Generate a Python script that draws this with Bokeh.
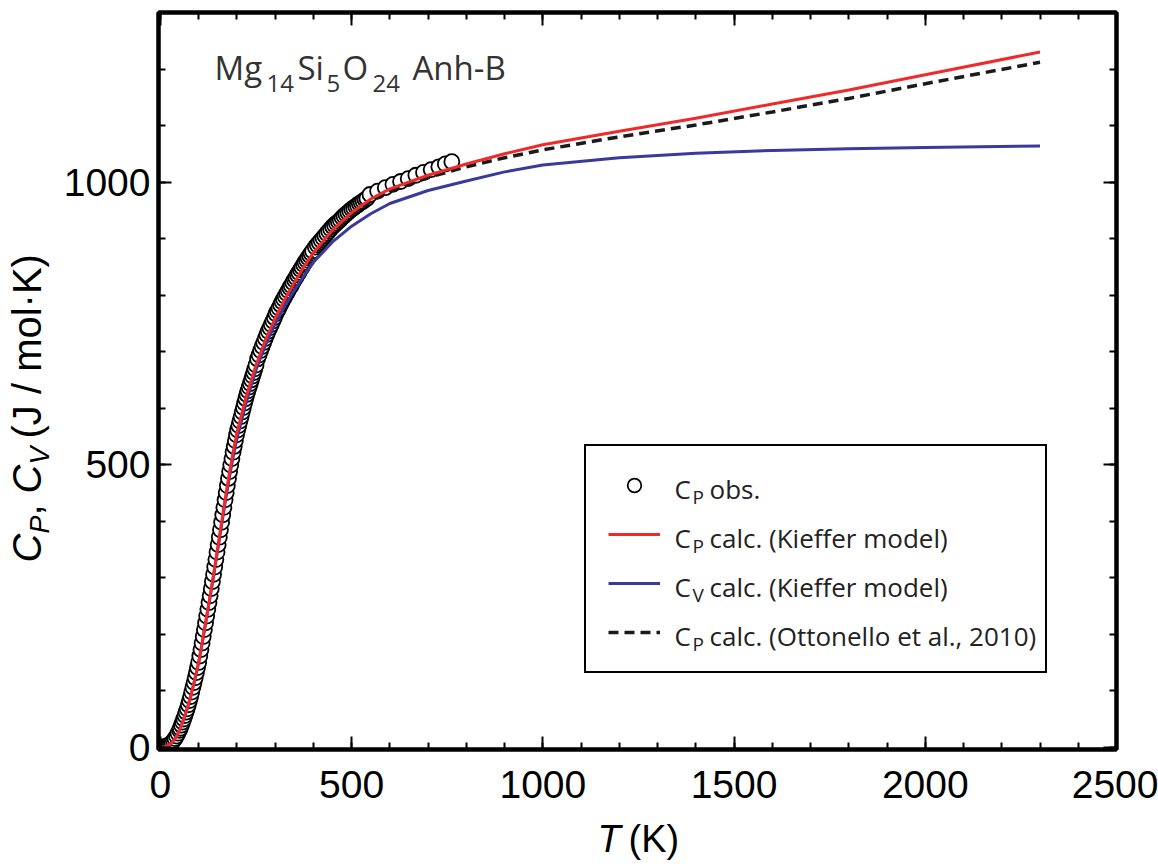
import math
from bokeh.plotting import figure
from bokeh.layouts import row, column
from bokeh.models import (Range1d, LinearAxis, SingleIntervalTicker, Label,
                          Legend, LegendItem, CustomJSTickFormatter)
from bokeh.embed import file_html
from bokeh.resources import INLINE

# ---- measured heat capacity (J / mol K) ----
obs_T = [2, 6, 10, 14, 18, 22, 26, 30, 34, 38, 42, 46, 50,
         52, 55, 58, 61, 64, 67, 70, 73, 76, 79, 82, 85, 88, 91, 94, 97,
         100, 103, 106, 109, 112, 115, 118, 121, 124, 127, 130, 133, 136, 139,
         142, 145, 148, 151, 154, 157, 160, 163, 166, 169, 172, 175, 178, 181,
         184, 187, 190, 193, 196, 199, 202, 205, 208, 211, 214, 217, 220, 223,
         226, 229, 232, 235, 238, 241, 244, 247, 250,
         254, 258, 262, 266, 270, 274, 278, 282, 286, 290, 294, 298, 302, 306,
         310, 314, 318, 322, 326, 330, 334, 338, 342, 346, 350, 354, 358, 362,
         366, 370, 374, 378, 382, 386, 390, 394, 398,
         405, 410, 415, 420, 425, 430, 435, 440, 445, 450, 455, 460, 465, 470,
         475, 480, 485, 490, 495, 500, 505, 510, 515, 520, 525, 530, 535, 540,
         548, 568, 588, 608, 628, 648, 668, 688, 708, 728, 745, 762]
obs_cp = [0.1, 0.3, 0.5, 1.5, 2.5, 4.0, 6.0, 8.0, 11.6, 15.2, 19.6, 24.8, 30.0,
          33.6, 39.0, 44.4, 50.0, 56.0, 62.0, 68.0, 75.2, 82.4, 89.6, 97.6, 106.0,
          114.4, 123.0, 132.0, 141.0, 150.0, 161.4, 172.8, 184.2, 196.0, 208.0,
          220.0, 232.0, 244.0, 256.0, 268.0, 280.6, 293.2, 305.8, 318.8, 332.0,
          345.2, 358.4, 371.6, 384.8, 398.0, 411.2, 424.4, 437.6, 450.4, 463.0,
          475.6, 487.8, 499.2, 510.6, 522.0, 532.2, 542.4, 552.6, 561.3, 569.2,
          577.1, 585.0, 593.0, 600.9, 608.8, 616.7, 624.2, 630.6, 637.1, 643.6,
          650.1, 656.6, 663.0, 669.5, 676.0,
          687, 694, 702, 709, 716, 723, 730, 736, 742, 748, 754, 760, 767, 772,
          777, 783, 788, 793, 798, 803, 808, 813, 817, 822, 827, 831, 836, 840,
          845, 849, 854, 858, 862, 866, 870, 874, 878,
          885, 889, 893, 897, 901, 905, 909, 913, 917, 921, 924, 927, 930, 933,
          937, 940, 943, 946, 949, 952, 954, 957, 959, 962, 964, 966, 969, 971,
          978, 984, 990, 996, 1001, 1006, 1012, 1017, 1022, 1027, 1032, 1036]

# ---- Kieffer model: Cp and Cv ----
model_T = [0, 10, 20, 30, 40, 50, 60, 70, 80, 90, 100, 110, 120, 130, 140, 150,
           160, 170, 180, 190, 200, 225, 250, 275, 300, 325, 350, 375, 400, 450,
           500, 550, 600, 700, 800, 900, 1000, 1200, 1400, 1600, 1800, 2000, 2300]
cp_kieffer = [0, 0.5, 3, 8, 17, 30, 48, 68, 92, 120, 150, 188, 228, 268, 310, 354,
              398, 442, 484, 522, 556, 622, 676, 721, 759, 792, 822, 850, 875, 915,
              946, 970, 988, 1012, 1032, 1050, 1066, 1090, 1113, 1138, 1163, 1190, 1230]
cv_kieffer = [0, 0.5, 3, 8, 17, 30, 48, 68, 92, 120, 150, 187, 227, 266, 307, 350,
              393, 436, 476, 513, 546, 612, 668, 712, 749, 781, 808, 834, 858, 894,
              922, 944, 962, 985, 1002, 1018, 1030, 1043, 1051, 1056, 1059, 1061, 1064]

# ---- Ottonello et al. (2010) ----
ott_T = [300, 350, 400, 450, 500, 550, 600, 700, 800, 900, 1000, 1200, 1400,
         1600, 1800, 2000, 2300]
cp_ott = [757, 820, 871, 911, 942, 966, 984, 1008, 1027, 1043, 1057, 1080, 1101,
          1124, 1148, 1174, 1212]

x_major = 500
y_major = 500

RED = "#ee2a2a"
BLUE = "#3b3a9c"
LF = "Liberation Sans"
SHIFT = 0.38   # Label baseline offset, in em, compensated below

# page geometry: plot box spans x 158..1116, y 12..749 on an 1158 x 866 page
PAGE_W, PAGE_H = 1158, 866
STRIP_W = 56     # strip left of the plot holding the vertical axis title
STRIP_H = 48     # strip under the plot holding the horizontal axis title
TOP_H = PAGE_H - STRIP_H
FL, FB = 158, 749

p = figure(width=PAGE_W - STRIP_W, height=TOP_H,
           x_range=Range1d(-5, 2500), y_range=Range1d(-4, 1300),
           output_backend="svg", toolbar_location=None,
           min_border_left=FL - STRIP_W, min_border_right=42, min_border_top=12,
           min_border_bottom=TOP_H - FB)
p.background_fill_color = "white"
p.border_fill_color = "white"
p.outline_line_color = "black"
p.outline_line_width = 4
p.xgrid.visible = False
p.ygrid.visible = False

xt = SingleIntervalTicker(interval=x_major, num_minor_ticks=5)
yt = SingleIntervalTicker(interval=y_major, num_minor_ticks=5)


def style_axis(ax, ticker):
    ax.ticker = ticker
    ax.axis_line_width = 4
    ax.axis_line_color = "black"
    ax.major_tick_in = 13
    ax.major_tick_out = 0
    ax.minor_tick_in = 7
    ax.minor_tick_out = 0
    ax.major_tick_line_width = 2
    ax.minor_tick_line_width = 2
    ax.major_label_text_font = LF
    ax.major_label_text_font_size = "39px"
    ax.major_label_text_color = "black"


style_axis(p.xaxis[0], xt)
style_axis(p.yaxis[0], yt)
p.xaxis[0].major_label_standoff = 21
p.yaxis[0].major_label_standoff = 8

blank = CustomJSTickFormatter(code="return ''")
top = LinearAxis()
right = LinearAxis()
style_axis(top, xt)
style_axis(right, yt)
for ax in (top, right):
    ax.formatter = blank
    ax.major_label_standoff = 0
    ax.major_label_text_font_size = "1px"
p.add_layout(top, "above")
p.add_layout(right, "right")

# ---- data ----
r_obs = p.scatter(obs_T, obs_cp, marker="circle", size=15, line_color="black",
                  line_width=1.8, fill_color="white")
r_ott = p.line(ott_T, cp_ott, line_color="#1a1a1a", line_width=3.5, line_dash="10 6")
r_cv = p.line(model_T, cv_kieffer, line_color=BLUE, line_width=3)
r_cp = p.line(model_T, cp_kieffer, line_color=RED, line_width=3)

# ---- legend frame and symbols; its texts are set as labels below ----
legend = Legend(items=[LegendItem(label=" ", renderers=[r_obs]),
                       LegendItem(label=" ", renderers=[r_cp]),
                       LegendItem(label=" ", renderers=[r_cv]),
                       LegendItem(label=" ", renderers=[r_ott])],
                location=(584 - FL, FB - 673), orientation="vertical",
                glyph_width=52, glyph_height=34, label_height=34, label_width=353,
                label_standoff=10, spacing=15, padding=22, margin=0,
                border_line_color="black", border_line_width=2, border_line_alpha=1.0,
                background_fill_alpha=0.0, label_text_font_size="1px")
p.add_layout(legend)


def put(fig, text, sx, sy, size, font="Open Sans", style="normal", color="#222222",
        angle=0.0):
    fig.add_layout(Label(x=sx, y=sy, x_units="screen", y_units="screen",
                         text=text, text_font=font, text_font_size=f"{size}px",
                         text_font_style=style, text_color=color, text_align="left",
                         text_baseline="alphabetic", angle=angle))


def txt(text, cx, cy, size, **kw):
    # page position of the baseline start -> offsets from the plot box corner
    put(p, text, cx - FL, FB - (cy - SHIFT * size), size, **kw)


# legend texts
leg_sub = ["P", "P", "V", "P"]
leg_txt = ["obs.", "calc. (Kieffer model)", "calc. (Kieffer model)",
           "calc. (Ottonello et al., 2010)"]
for i, (s, t) in enumerate(zip(leg_sub, leg_txt)):
    base = 498 + 49 * i
    txt("C", 674, base, 26)
    txt(s, 692, base + 6, 19)
    txt(t, 709, base, 26)

# formula label
TC = "#333333"
txt("Mg", 214, 80, 33, color=TC)
txt("14", 266, 92, 24, color=TC)
txt("Si", 297, 80, 33, color=TC)
txt("5", 326, 92, 24, color=TC)
txt("O", 342, 80, 33, color=TC)
txt("24", 372, 92, 24, color=TC)
txt("Anh-B", 412, 80, 33, color=TC)


def blank_strip(w, h):
    s = figure(width=w, height=h, x_range=Range1d(0, 1), y_range=Range1d(0, 1),
               x_axis_type=None, y_axis_type=None, output_backend="svg",
               toolbar_location=None, min_border=0)
    s.outline_line_color = None
    s.background_fill_color = "white"
    s.border_fill_color = "white"
    return s


# vertical axis title (reads bottom to top); the strip's frame lines up with
# the plot box, so offsets are taken from the plot box bottom
ys = blank_strip(STRIP_W, TOP_H)
up = math.pi / 2


def ytxt(text, cx, cy, size, **kw):
    put(ys, text, cx - SHIFT * size, FB - cy, size, font=LF, color="black",
        angle=up, **kw)


ytxt("C", 42, 562, 40, style="italic")
ytxt("P", 50, 533, 27, style="italic")
ytxt(",", 42, 515, 40)
ytxt("C", 42, 493, 40, style="italic")
ytxt("V", 50, 464, 27, style="italic")
ytxt("(J / mol\u00b7K)", 42, 438, 40)

# horizontal axis title, in a strip as wide as the page
xs = blank_strip(PAGE_W, STRIP_H)


def xtxt(text, cx, cy, size, **kw):
    put(xs, text, cx, PAGE_H - (cy - SHIFT * size), size, font=LF,
        color="black", **kw)


xtxt("T", 597, 853, 38, style="italic")
xtxt("(K)", 628, 853, 38)

page = column(row(ys, p), xs)
open("out.html", "w").write(file_html(page, INLINE))
